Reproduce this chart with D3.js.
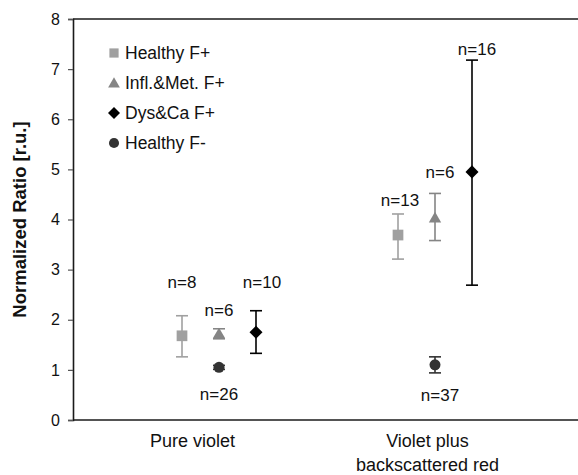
<!DOCTYPE html>
<html>
<head>
<meta charset="utf-8">
<script src="https://cdn.jsdelivr.net/npm/d3@7"></script>
<style>
  html, body { margin: 0; padding: 0; background: #fff; }
  svg { display: block; font-family: "Liberation Sans", Arial, Helvetica, sans-serif; }
</style>
</head>
<body>
<svg id="chart" width="578" height="475"></svg>
<script>
// Excitation conditions (x categories)
const categories = ["Pure violet", "Violet plus backscattered red"];
const categoryLines = [["Pure violet"], ["Violet plus", "backscattered red"]];

// Groups shown in the legend
const seriesNames = ["Healthy F+", "Infl.&Met. F+", "Dys&Ca F+", "Healthy F-"];

// Mean normalized ratio per series, one value per category
const meanHealthyFPlus = [1.68, 3.69];
const meanInflMetFPlus = [1.72, 4.03];
const meanDysCaFPlus   = [1.75, 4.95];
const meanHealthyFMinus = [1.05, 1.10];

// Upper / lower error-bar ends
const upperHealthyFPlus = [2.08, 4.11];
const lowerHealthyFPlus = [1.26, 3.21];
const upperInflMetFPlus = [1.82, 4.52];
const lowerInflMetFPlus = [1.62, 3.58];
const upperDysCaFPlus   = [2.18, 7.18];
const lowerDysCaFPlus   = [1.33, 2.69];
const upperHealthyFMinus = [1.09, 1.26];
const lowerHealthyFMinus = [1.01, 0.94];

// Sample sizes
const nHealthyFPlus = [8, 13];
const nInflMetFPlus = [6, 6];
const nDysCaFPlus   = [10, 16];
const nHealthyFMinus = [26, 37];

// Y axis ticks
const yTicks = [0, 1, 2, 3, 4, 5, 6, 7, 8];

// ---- styling / layout ----
// a square turned 45 degrees, for the diamond marker
const rotatedSquare = {
  draw(context, size) {
    const r = Math.sqrt(size / 2);
    context.moveTo(0, -r); context.lineTo(r, 0); context.lineTo(0, r); context.lineTo(-r, 0);
    context.closePath();
  }
};
const style = [
  { color: "#a0a0a0", symbol: d3.symbolSquare,   size: 115, legendSize: 85, dx: -37, dy: 0 },
  { color: "#858585", symbol: d3.symbolTriangle, size: 66,  legendSize: 60, dx: 0,   dy: 1 },
  { color: "#000000", symbol: rotatedSquare,     size: 85,  legendSize: 72, dx: 37,  dy: 0 },
  { color: "#333333", symbol: d3.symbolCircle,   size: 95,  legendSize: 80, dx: 0,   dy: 0 }
];
// n= label placement relative to the point (px), per category and series
const labelPlacement = [
  [{dx: 0, dy: -34, from: "top"}, {dx: 0, dy: -19, from: "top"}, {dx: 6, dy: -29, from: "top"}, {dx: 0, dy: 27, from: "mean"}],
  [{dx: 2, dy: -14, from: "top"}, {dx: 5, dy: -21, from: "top"}, {dx: 5, dy: -11, from: "top"}, {dx: 5, dy: 30, from: "mean"}]
];

const means = [meanHealthyFPlus, meanInflMetFPlus, meanDysCaFPlus, meanHealthyFMinus];
const uppers = [upperHealthyFPlus, upperInflMetFPlus, upperDysCaFPlus, upperHealthyFMinus];
const lowers = [lowerHealthyFPlus, lowerInflMetFPlus, lowerDysCaFPlus, lowerHealthyFMinus];
const counts = [nHealthyFPlus, nInflMetFPlus, nDysCaFPlus, nHealthyFMinus];

const svg = d3.select("#chart");
const plotLeft = 73, plotRight = 578, plotTop = 19, plotBottom = 420;

const y = d3.scaleLinear().domain([0, 8]).range([plotBottom, plotTop]);
// category label positions
const xLabel = d3.scaleBand().domain(categories).range([75, 545]);
// point group centres
const xGroup = d3.scalePoint().domain(categories).range([219, 435]);

// frame lines: top and bottom
svg.append("line").attr("x1", plotLeft).attr("x2", plotRight).attr("y1", plotTop).attr("y2", plotTop)
  .attr("stroke", "#1a1a1a").attr("stroke-width", 1.6);
svg.append("line").attr("x1", plotLeft).attr("x2", plotRight).attr("y1", plotBottom).attr("y2", plotBottom)
  .attr("stroke", "#1a1a1a").attr("stroke-width", 1.6);

// y axis
const yAxis = d3.axisLeft(y).tickValues(yTicks).tickSize(5).tickPadding(8).tickFormat(d3.format("d"));
const gy = svg.append("g").attr("transform", `translate(${plotLeft},0)`).call(yAxis);
gy.select(".domain").attr("stroke", "#1a1a1a").attr("stroke-width", 1.6);
gy.selectAll(".tick line").attr("stroke", "#555").attr("stroke-width", 1.2);
gy.selectAll(".tick text").attr("font-size", 16).attr("fill", "#111")
  .attr("font-family", "'Liberation Sans', Arial, sans-serif");

// y title
svg.append("text")
  .attr("transform", `translate(26,${(plotTop + plotBottom) / 2}) rotate(-90)`)
  .attr("text-anchor", "middle")
  .attr("font-size", 18.5).attr("font-weight", "bold").attr("fill", "#111")
  .text("Normalized Ratio [r.u.]");

// category labels
categories.forEach((c, i) => {
  const t = svg.append("text").attr("text-anchor", "middle")
    .attr("font-size", 18).attr("fill", "#111");
  categoryLines[i].forEach((line, j) => {
    t.append("tspan").attr("x", xLabel(c) + xLabel.bandwidth() / 2)
      .attr("y", 447 + j * 24).text(line);
  });
});

// error bars, markers and n labels
const capW = 12;
seriesNames.forEach((name, s) => {
  const st = style[s];
  const g = svg.append("g");
  categories.forEach((c, i) => {
    const cx = xGroup(c) + st.dx;
    const yu = y(uppers[s][i]), yl = y(lowers[s][i]), ym = y(means[s][i]);
    g.append("line").attr("x1", cx).attr("x2", cx).attr("y1", yu).attr("y2", yl)
      .attr("stroke", st.color).attr("stroke-width", 1.6);
    [yu, yl].forEach(yy => g.append("line")
      .attr("x1", cx - capW / 2).attr("x2", cx + capW / 2).attr("y1", yy).attr("y2", yy)
      .attr("stroke", st.color).attr("stroke-width", 1.6));
    g.append("path")
      .attr("d", d3.symbol().type(st.symbol).size(st.size)())
      .attr("transform", `translate(${cx},${ym + st.dy})`)
      .attr("fill", st.color);

    const lp = labelPlacement[i][s];
    const anchorY = lp.from === "top" ? yu : ym;
    svg.append("text").attr("x", cx + lp.dx).attr("y", anchorY + lp.dy)
      .attr("dy", "0.35em").attr("text-anchor", "middle")
      .attr("font-size", 17).attr("fill", "#111")
      .text("n=" + counts[s][i]);
  });
});

// legend
const legend = svg.append("g").attr("transform", "translate(114,53)");
seriesNames.forEach((name, s) => {
  const row = legend.append("g").attr("transform", `translate(0,${s * 30})`);
  row.append("path")
    .attr("d", d3.symbol().type(style[s].symbol).size(style[s].legendSize)())
    .attr("transform", `translate(0,${style[s].dy})`)
    .attr("fill", style[s].color);
  row.append("text").attr("x", 11).attr("dy", "0.35em")
    .attr("font-size", 17.5).attr("fill", "#111").text(name);
});
</script>
</body>
</html>
